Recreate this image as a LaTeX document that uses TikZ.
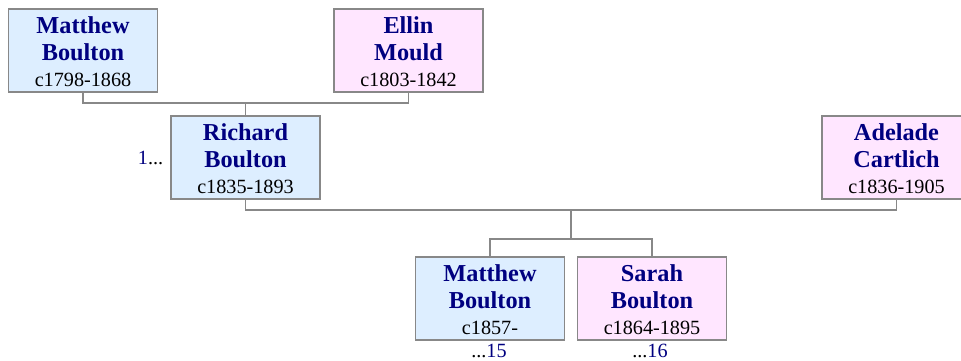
\documentclass[tikz,border=0pt]{standalone}
\usepackage{fontspec}
\setmainfont{Liberation Serif}
\usetikzlibrary{positioning}
\definecolor{navy}{HTML}{000080}
\definecolor{mblue}{HTML}{DDEEFF}
\definecolor{fpink}{HTML}{FFE6FF}
\definecolor{edgegray}{HTML}{888888}
\newcommand{\pname}[1]{{\fontsize{24.3}{26.7}\selectfont\bfseries\color{navy}#1}}
\newcommand{\person}[3]{\rule{0pt}{19.5pt}\pname{#1}\\\pname{#2}\\#3}
\tikzset{
  person/.style={draw=edgegray, line width=1.2pt, minimum width=149pt, minimum height=83pt, inner sep=0pt, align=center, font=\fontsize{20.2}{26.7}\selectfont},
  male/.style={person, fill=mblue},
  female/.style={person, fill=fpink},
  link/.style={draw=edgegray, line width=1.2pt},
  ref/.style={inner sep=0pt, font=\fontsize{20.2}{24}\selectfont},
}
\begin{document}
\begin{tikzpicture}[x=1pt, y=-1pt]
    \useasboundingbox (0,0) rectangle (961,360);
    % grandparents
    \node[male] (mb) at (83,50.5) {\person{Matthew}{Boulton}{c1798-1868}};
    \node[female] (em) at (408.5,50.5) {\person{Ellin}{Mould}{c1803-1842}};
    % parents
    \node[male] (rb) at (245.5,157.5) {\person{Richard}{Boulton}{c1835-1893}};
    \node[female] (ac) at (896.5,157.5) {\person{Adelade}{Cartlich}{c1836-1905}};
    % children
    \node[male] (mb2) at (490,298.5) {\person{Matthew}{Boulton}{c1857-}};
    \node[female] (sb) at (652,298.5) {\person{Sarah}{Boulton}{c1864-1895}};
    \node[ref, left=7pt of rb] (rbref) {\textcolor{navy}{1}...};
    \node[ref, anchor=base] (mbref) at (489,357) {...\textcolor{navy}{15}};
    \node[ref, anchor=base] (sbref) at (650,357) {...\textcolor{navy}{16}};
    % junctions
    \coordinate (j1) at (245.5,103);
    \coordinate (j2) at (571,210);
    \coordinate (j3) at (571,239);
    \draw[link] (mb.south) |- (j1) -| (em.south);
    \draw[link] (j1) -- (rb.north);
    \draw[link] (rb.south) |- (j2) -| (ac.south);
    \draw[link] (j2) -- (j3);
    \draw[link] (mb2.north) |- (j3) -| (sb.north);
\end{tikzpicture}
\end{document}
